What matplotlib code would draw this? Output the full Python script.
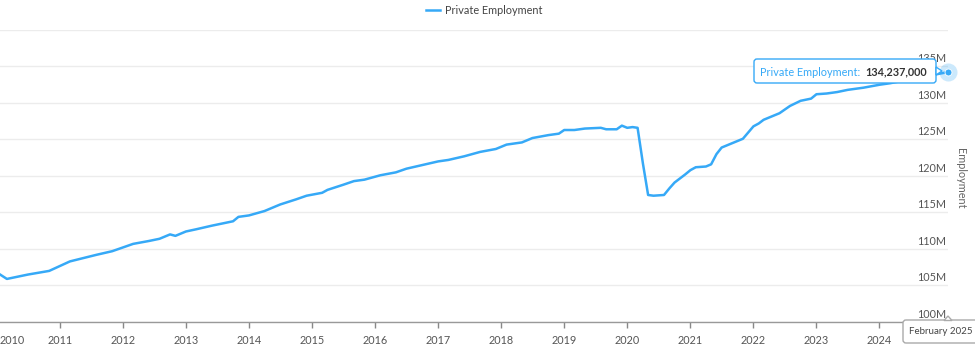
import matplotlib
matplotlib.use("Agg")
import matplotlib.pyplot as plt
from matplotlib.patches import FancyBboxPatch, Polygon
from matplotlib.transforms import IdentityTransform
import pandas as pd

plt.rcParams['font.family'] = ['Lato', 'DejaVu Sans']

# ---- data ----
months = ["2010-01", "2010-03", "2010-05", "2010-07", "2010-11", "2011-03", "2011-08",
          "2011-11", "2012-03", "2012-06", "2012-08", "2012-10", "2012-11", "2013-01",
          "2013-03", "2013-06", "2013-10", "2013-11", "2014-01", "2014-04", "2014-07",
          "2014-10", "2014-12", "2015-03", "2015-04", "2015-07", "2015-09", "2015-11",
          "2016-02", "2016-05", "2016-07", "2016-10", "2017-01", "2017-03", "2017-06",
          "2017-09", "2017-12", "2018-02", "2018-05", "2018-07", "2018-10", "2018-12",
          "2019-01", "2019-03", "2019-05", "2019-08", "2019-09", "2019-11", "2019-12",
          "2020-01", "2020-02", "2020-03", "2020-04", "2020-05", "2020-06", "2020-08",
          "2020-09", "2020-10", "2020-12", "2021-01", "2021-02", "2021-04", "2021-05",
          "2021-06", "2021-07", "2021-11", "2022-01", "2022-02", "2022-03", "2022-06",
          "2022-08", "2022-10", "2022-12", "2023-01", "2023-03", "2023-05", "2023-07",
          "2023-10", "2024-01", "2024-03", "2025-02"]
employment_m = [106.8, 105.9, 106.2, 106.5, 107.0, 108.3, 109.2,
                109.7, 110.7, 111.1, 111.4, 112.0, 111.8, 112.4,
                112.7, 113.2, 113.8, 114.4, 114.6, 115.2, 116.1,
                116.8, 117.3, 117.7, 118.1, 118.8, 119.3, 119.5,
                120.1, 120.5, 121.0, 121.5, 122.0, 122.2, 122.7,
                123.3, 123.7, 124.3, 124.6, 125.2, 125.6, 125.8,
                126.3, 126.3, 126.5, 126.6, 126.4, 126.4, 126.9,
                126.6, 126.7, 126.6, 121.7, 117.4, 117.3, 117.4,
                118.3, 119.1, 120.2, 120.8, 121.2, 121.3, 121.6,
                123.0, 123.9, 125.1, 126.8, 127.2, 127.7, 128.6,
                129.6, 130.3, 130.6, 131.2, 131.3, 131.5, 131.8,
                132.1, 132.5, 132.7, 134.237]
series_name = "Private Employment"
last_value_label = "134,237,000"
last_date_label = "February 2025"
y_ticks = [100, 105, 110, 115, 120, 125, 130, 135, 140]
y_tick_labels = ["100M", "105M", "110M", "115M", "120M", "125M", "130M", "135M", ""]
year_ticks = list(range(2011, 2025))

dates = pd.to_datetime(months)

BLUE = "#36a9f7"
W, H = 975, 354

fig = plt.figure(figsize=(W / 100, H / 100), dpi=100)
ax = fig.add_axes([0, 1 - 322 / H, 948 / W, (322 - 30) / H])

ax.plot(dates, employment_m, color=BLUE, lw=1.8, solid_joinstyle='round', zorder=3,
        label=series_name)
# highlighted last point
ax.plot(dates[-1:], employment_m[-1:], 'o', ms=13, color=BLUE, alpha=0.25,
        clip_on=False, zorder=4, mec='none')
ax.plot(dates[-1:], employment_m[-1:], 'o', ms=5, color=BLUE, clip_on=False,
        zorder=5, mec='white', mew=0.6)

ax.set_xlim(pd.Timestamp("2010-01-20"), pd.Timestamp("2025-02-01"))
ax.set_ylim(100, 140)

# grid
ax.set_yticks(y_ticks)
ax.yaxis.grid(True, color="#ececec", lw=1.0)
ax.tick_params(axis='y', length=0, labelleft=False)
for v, lab in zip(y_ticks, y_tick_labels):
    ax.annotate(lab, xy=(1, v), xycoords=('axes fraction', 'data'),
                xytext=(-1, 1.5), textcoords='offset points', ha='right', va='bottom',
                fontsize=7.8, color="#555555", zorder=2)

# x axis
ax.set_xticks([pd.Timestamp(f"{y}-01-01") for y in year_ticks])
ax.set_xticklabels([str(y) for y in year_ticks])
ax.tick_params(axis='x', length=4, width=1, color="#888888", pad=5,
               labelsize=7.8, labelcolor="#555555")
ax.annotate("2010", xy=(0, 0), xycoords='axes fraction', xytext=(0, -9),
            textcoords='offset points', ha='left', va='top',
            fontsize=7.8, color="#555555")
for s in ['top', 'left', 'right']:
    ax.spines[s].set_visible(False)
ax.spines['bottom'].set_color("#999999")
ax.spines['bottom'].set_linewidth(1.0)

# y label
fig.text(960 / W, 1 - 178 / H, "Employment", rotation=270, ha='center', va='center',
         fontsize=7.8, color="#666666")

# legend
fig.legend(loc='center', bbox_to_anchor=(484 / W, 1 - 10 / H), frameon=False,
           handlelength=1.3, handletextpad=0.5, fontsize=7.8, labelcolor="#444444")

# tooltip near last point
idt = IdentityTransform()
def px(x, y):
    return (x, H - y)

box = FancyBboxPatch(px(754, 83), 182, 24, boxstyle="round,pad=0,rounding_size=3",
                     transform=idt, fc="white", ec=BLUE, lw=1.0, zorder=10)
fig.patches.append(box)
fig.patches.append(Polygon([px(936, 67), px(942, 71), px(936, 75)], closed=True,
                           transform=idt, fc="white", ec=BLUE, lw=1.0, zorder=11))
fig.text(760 / W, 1 - 72 / H, series_name + ":", ha='left', va='center',
         fontsize=7.8, color=BLUE, zorder=12)
fig.text(865 / W, 1 - 72 / H, last_value_label, ha='left', va='center',
         fontsize=7.8, color="#333333", fontweight='bold', zorder=12)

# date tooltip at bottom right
box2 = FancyBboxPatch(px(903, 343), 80, 23, boxstyle="round,pad=0,rounding_size=3",
                      transform=idt, fc="white", ec="#aaaaaa", lw=1.0, zorder=10)
fig.patches.append(box2)
fig.patches.append(Polygon([px(944, 320.5), px(948, 316), px(952, 320.5)], closed=True,
                           transform=idt, fc="white", ec="#aaaaaa", lw=1.0, zorder=11))
fig.text(909 / W, 1 - 332 / H, last_date_label, ha='left', va='center',
         fontsize=7.0, color="#444444", zorder=12)

fig.savefig("out.png", dpi=100)
